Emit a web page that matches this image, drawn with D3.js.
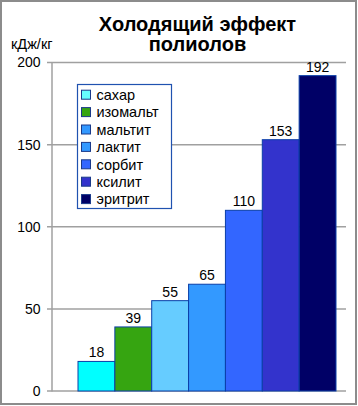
<!DOCTYPE html>
<html><head><meta charset="utf-8">
<script src="https://cdn.jsdelivr.net/npm/d3@7"></script>
<style>body{margin:0;background:#fff}svg{display:block}</style>
</head><body><svg id="c" width="358" height="406"></svg>
<script>
const categories = ["сахар","изомальт","мальтит","лактит","сорбит","ксилит","эритрит"];
const values = [18,39,55,65,110,153,192];
const colors = ["#00FFFF","#36A511","#66CCFF","#3399FF","#3366FF","#3333CC","#000066"];
const legendColors = ["#66FFFF","#36A511","#3399FF","#3399FF","#3366FF","#3333CC","#000066"];
const yTicks = [0,50,100,150,200];
const titleLines = ["Холодящий эффект","полиолов"];
const unitLabel = "кДж/кг";

const svg = d3.select("#c");
const font = "Liberation Sans, Arial, sans-serif";

svg.append("rect").attr("x",1).attr("y",1).attr("width",355).attr("height",403)
  .attr("fill","#fff").attr("stroke","#8c8c8c").attr("stroke-width",2);

const y = d3.scaleLinear().domain([0,200]).range([391,62.5]);
const x = d3.scaleBand().domain(categories).range([78,336]).padding(0);

// gridlines
svg.append("g").selectAll("line").data(yTicks).join("line")
  .attr("x1",47).attr("x2",346).attr("y1",d=>y(d)).attr("y2",d=>y(d))
  .attr("stroke","#a0a0a0").attr("stroke-width",1.5);

// y axis
const ya = svg.append("g").attr("transform","translate(51.5,0)")
  .call(d3.axisLeft(y).tickValues(yTicks).tickSize(0).tickPadding(11));
ya.select(".domain").attr("stroke","#a0a0a0").attr("stroke-width",1.5);
ya.selectAll("text").attr("font-family",font).attr("font-size","14px").attr("fill","#000");

// bars
svg.append("g").selectAll("rect").data(values).join("rect")
  .attr("x",(d,i)=>x(categories[i])).attr("width",x.bandwidth())
  .attr("y",d=>y(d)).attr("height",d=>y(0)-y(d))
  .attr("fill",(d,i)=>colors[i]).attr("stroke","#0a3fa8").attr("stroke-width",1);

// value labels
svg.append("g").selectAll("text").data(values).join("text")
  .attr("x",(d,i)=>x(categories[i])+x.bandwidth()/2).attr("y",d=>y(d)-4)
  .attr("text-anchor","middle").attr("font-family",font).attr("font-size","14px")
  .attr("fill","#000").text(d=>d);

// title
svg.append("g").selectAll("text").data(titleLines).join("text")
  .attr("x",197.5).attr("y",(d,i)=>31+i*19.5).attr("text-anchor","middle")
  .attr("font-family",font).attr("font-weight","bold").attr("font-size","20px")
  .attr("fill","#000").text(d=>d);

svg.append("text").attr("x",11).attr("y",49).attr("font-family",font)
  .attr("font-size","14.5px").attr("fill","#000").text(unitLabel);

// legend
const lg = svg.append("g");
lg.append("rect").attr("x",77.5).attr("y",84.5).attr("width",94).attr("height",124)
  .attr("fill","#fff").attr("stroke","#2052b0").attr("stroke-width",1.2);
const items = lg.selectAll("g").data(categories).join("g")
  .attr("transform",(d,i)=>`translate(0,${94.7+i*17.4})`);
items.append("rect").attr("x",81.5).attr("y",-4.5).attr("width",9).attr("height",9)
  .attr("fill",(d,i)=>legendColors[i]).attr("stroke","#1a3a8a").attr("stroke-width",1);
items.append("text").attr("x",96.5).attr("y",5.2).attr("font-family",font)
  .attr("font-size","14.5px").attr("fill","#000").text(d=>d);
</script></body></html>
